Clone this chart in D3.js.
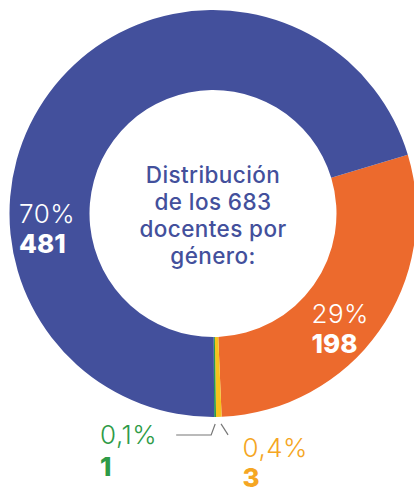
<!DOCTYPE html>
<html>
<head>
	<meta charset="utf-8">
	<title>Distribución de docentes por género</title>
	<script src="https://d3js.org/d3.v7.min.js" charset="utf-8"></script>
	<style>
		body { margin: 0; background: #fff; }
		text { font-family: "Inter", "Open Sans", sans-serif; }
	</style>
</head>
<body>
	<script>
		// data, in drawing order (clockwise from the orange slice)
		var categories = ["Hombres", "Otro", "No binario", "Mujeres"];
		var counts = [198, 3, 1, 481];
		var percents = ["29%", "0,4%", "0,1%", "70%"];
		var titleLines = ["Distribución", "de los 683", "docentes por", "género:"];

		var svgWidth = 414,
			svgHeight = 493,
			cx = 213,
			cy = 213.5,
			outerR = 203.5,
			innerR = 123.5;

		var colors = ["#ec6a2d", "#f7c21c", "#2e9b47", "#43509c"];
		var labelFill = ["#ffffff", "#f5a623", "#2e9b47", "#ffffff"];

		var svg = d3.select("body")
			.append("svg")
			.attr("width", svgWidth)
			.attr("height", svgHeight);

		var g = svg.append("g")
			.attr("transform", "translate(" + cx + "," + cy + ")");

		var data = categories.map(function(c, i) {
			return {name: c, value: counts[i], pct: percents[i]};
		});

		var start = 73.2 * Math.PI / 180;
		var pie = d3.pie()
			.sort(null)
			.value(function(d) { return d.value; })
			.startAngle(start)
			.endAngle(start + 2 * Math.PI);

		var arc = d3.arc()
			.innerRadius(innerR)
			.outerRadius(outerR);

		var arcs = pie(data);

		g.selectAll(".slice")
			.data(arcs)
			.enter().append("path")
			.attr("class", "slice")
			.attr("d", arc)
			.attr("fill", function(d, i) { return colors[i]; });

		// centre title
		g.append("text")
			.attr("text-anchor", "middle")
			.attr("fill", "#43509c")
			.attr("font-size", 22.5)
			.attr("font-weight", 500)
			.attr("letter-spacing", 0.4)
			.selectAll("tspan")
			.data(titleLines)
			.enter().append("tspan")
			.attr("x", 0)
			.attr("y", function(d, i) { return -31 + i * 27; })
			.text(function(d) { return d; });

		// label anchors (left edge of text, relative to centre) and line gap
		var labelPos = [
			[98.5, 109.5, 30],   // orange
			[29.5, 243.5, 30],   // yellow
			[-113, 230, 32],     // green
			[-194, 9, 30]        // blue
		];

		var labels = g.selectAll(".lbl")
			.data(arcs)
			.enter().append("g")
			.attr("class", "lbl")
			.attr("transform", function(d, i) {
				return "translate(" + labelPos[i][0] + "," + labelPos[i][1] + ")";
			});

		labels.append("text")
			.attr("font-size", 26)
			.attr("font-weight", 300)
			.attr("letter-spacing", 0.5)
			.attr("fill", function(d, i) { return labelFill[i]; })
			.text(function(d) { return d.data.pct; });

		labels.append("text")
			.attr("y", function(d, i) { return labelPos[i][2]; })
			.attr("font-size", 26)
			.attr("font-weight", 800)
			.attr("fill", function(d, i) { return labelFill[i]; })
			.text(function(d) { return d.data.value; });

		// leader lines for the two tiny slices
		function edgePoint(d, r) {
			var a = (d.startAngle + d.endAngle) / 2;
			return [Math.sin(a) * r, -Math.cos(a) * r];
		}

		var yel = arcs[1], grn = arcs[2];
		var pg = edgePoint(grn, outerR + 7);
		var py = edgePoint(yel, outerR + 7);

		g.append("polyline")
			.attr("points", [[pg[0], pg[1]], [pg[0] - 4, pg[1] + 11], [pg[0] - 39, pg[1] + 11]].join(" "))
			.attr("fill", "none")
			.attr("stroke", "#777")
			.attr("stroke-width", 1.2);

		g.append("polyline")
			.attr("points", [[py[0] + 2, py[1]], [py[0] + 9, py[1] + 11]].join(" "))
			.attr("fill", "none")
			.attr("stroke", "#777")
			.attr("stroke-width", 1.2);
	</script>
</body>
</html>
